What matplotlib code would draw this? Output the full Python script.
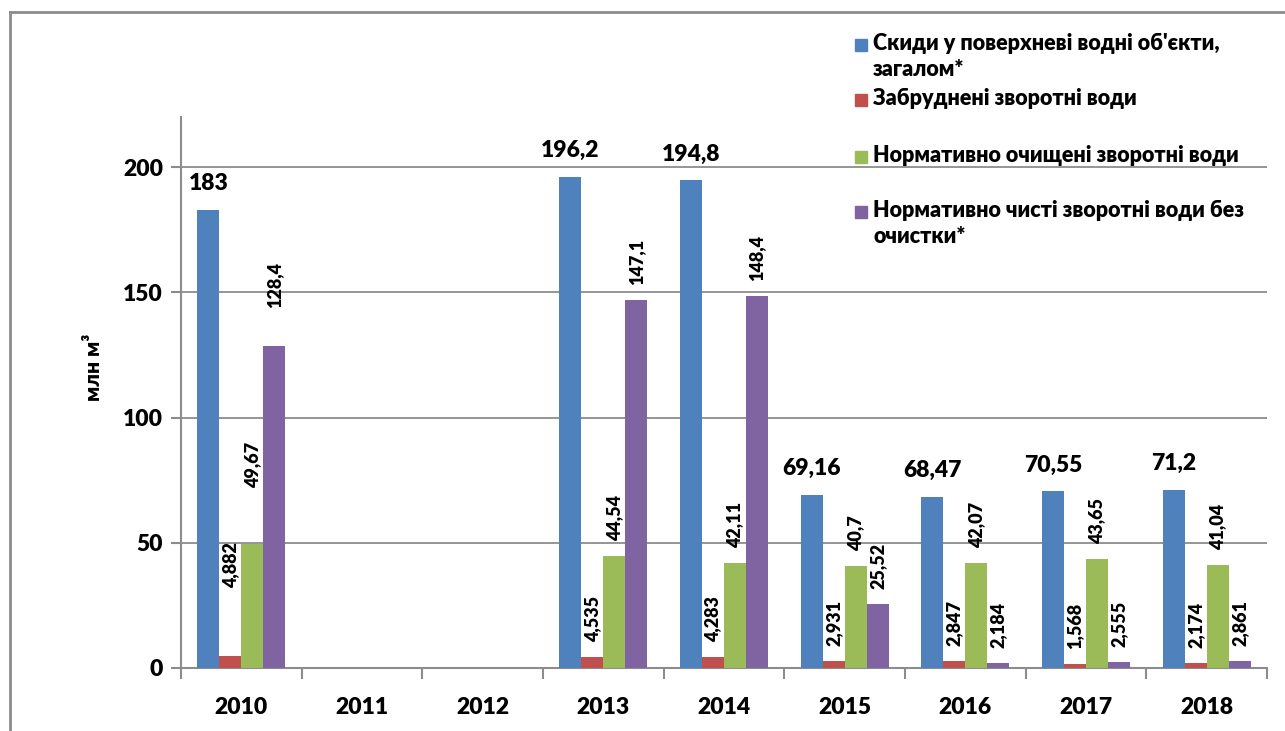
import numpy as np
import matplotlib
matplotlib.use("Agg")
import matplotlib.pyplot as plt
from matplotlib.patches import Rectangle
from matplotlib.lines import Line2D

years = ["2010", "2011", "2012", "2013", "2014", "2015", "2016", "2017", "2018"]
discharges = [183, np.nan, np.nan, 196.2, 194.8, 69.16, 68.47, 70.55, 71.2]
polluted = [4.882, np.nan, np.nan, 4.535, 4.283, 2.931, 2.847, 1.568, 2.174]
treated = [49.67, np.nan, np.nan, 44.54, 42.11, 40.7, 42.07, 43.65, 41.04]
clean = [128.4, np.nan, np.nan, 147.1, 148.4, 25.52, 2.184, 2.555, 2.861]
names = ["Скиди у поверхневі водні об'єкти,\nзагалом*",
         "Забруднені зворотні води",
         "Нормативно очищені зворотні води",
         "Нормативно чисті зворотні води без\nочистки*"]
colors = ["#4F81BD", "#C0504D", "#9BBB59", "#8064A2"]

plt.rcParams['font.family'] = ['Lato', 'DejaVu Sans']
BW = "heavy"
plt.rcParams['font.weight'] = BW

W, H = 1285, 731
fig = plt.figure(figsize=(W / 100, H / 100), dpi=100)
ax = fig.add_axes([181 / W, 1 - 668 / H, (1267 - 181) / W, (668 - 117) / H])

def fmt(v):
    return ("%g" % v).replace(".", ",")

x = np.arange(len(years))
w = 0.182
series = [discharges, polluted, treated, clean]
# 2010 labels were dragged further up in the original
extra_gap = {(0, 1): 53, (0, 2): 41, (0, 3): 23}
for i, (vals, col) in enumerate(zip(series, colors)):
    pos = x + (i - 1.5) * w
    ax.bar(pos, vals, w, color=col, zorder=3)
    for j, v in enumerate(vals):
        if np.isnan(v):
            continue
        if i == 0:
            ax.annotate(fmt(v), (pos[j], v), xytext=(0, 26 * 0.72), textcoords="offset points",
                        ha="center", va="center", fontsize=16.5, fontweight=BW)
        else:
            gap = 15 + extra_gap.get((j, i), 0)
            ax.annotate(fmt(v), (pos[j], v), xytext=(0, gap * 0.72), textcoords="offset points",
                        ha="center", va="bottom", rotation=90, fontsize=13, fontweight=BW)

ax.set_xlim(-0.5, len(years) - 0.5)
ax.set_ylim(0, 220)
ax.set_yticks([0, 50, 100, 150, 200])
ax.set_xticks(x)
ax.set_xticklabels(years)
ax.set_xticks(np.arange(len(years) + 1) - 0.5, minor=True)
ax.tick_params(axis="x", which="major", length=0, pad=21, labelsize=16.5)
ax.tick_params(axis="x", which="minor", length=8, width=1.5, color="#8c8c8c")
ax.tick_params(axis="y", length=7, width=1.5, color="#8c8c8c", labelsize=16.5, pad=6)
ax.grid(axis="y", color="#8c8c8c", linewidth=1.3, zorder=0)
for s in ["top", "right"]:
    ax.spines[s].set_visible(False)
for s in ["left", "bottom"]:
    ax.spines[s].set_color("#8c8c8c")
    ax.spines[s].set_linewidth(1.5)
ax.set_ylabel("млн м³", fontsize=15, fontweight=BW)
ax.yaxis.set_label_coords(-0.072, 0.546)

# legend drawn by hand, no frame
leg_y = [45, 100, 157, 212]
for name, col, ly in zip(names, colors, leg_y):
    fig.patches.append(Rectangle((855 / W, 1 - (ly + 6) / H), 12 / W, 12 / H,
                                 transform=fig.transFigure, color=col))
    fig.text(873 / W, 1 - (ly - 12) / H, name, fontsize=15.5, fontweight=BW,
             va="top", ha="left", linespacing=1.3)

# outer frame
fig.add_artist(Line2D([9.5 / W, 9.5 / W], [0, 1 - 12 / H], color="#8c8c8c", lw=2))
fig.add_artist(Line2D([9.5 / W, 1], [1 - 12 / H, 1 - 12 / H], color="#8c8c8c", lw=2))

fig.savefig("out.png", dpi=100)
